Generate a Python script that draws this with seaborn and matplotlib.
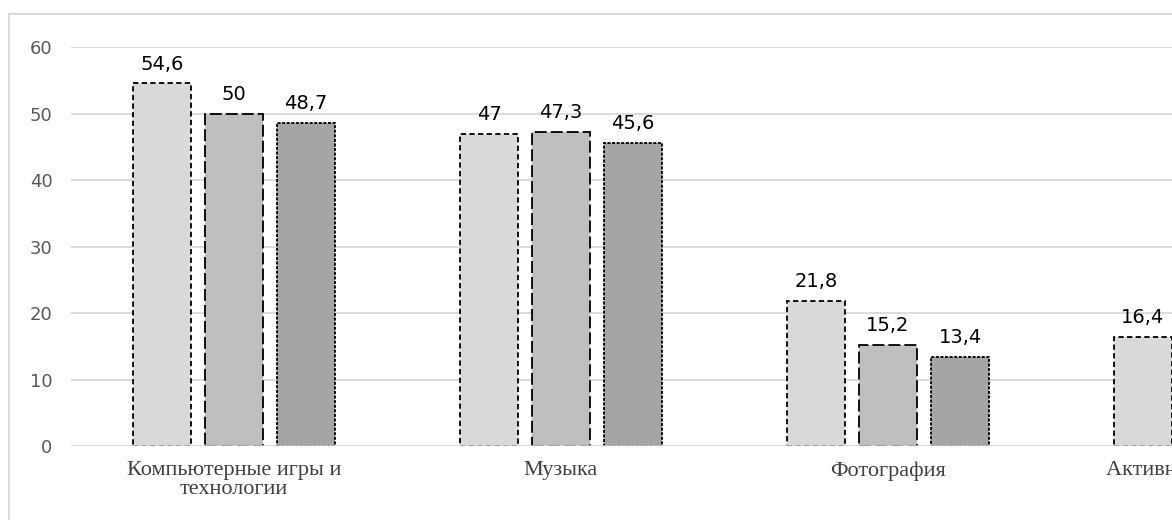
import matplotlib
matplotlib.use("Agg")
import matplotlib.pyplot as plt
import seaborn as sns
import pandas as pd
import numpy as np
from matplotlib.patches import Rectangle

categories = ["Компьютерные игры и\nтехнологии", "Музыка", "Фотография", "Активные виды спорта"]
series = ["Серия 1", "Серия 2", "Серия 3"]
values_1 = [54.6, 47.0, 21.8, 16.4]
values_2 = [50.0, 47.3, 15.2, np.nan]
values_3 = [48.7, 45.6, 13.4, np.nan]
y_ticks = [0, 10, 20, 30, 40, 50, 60]

sns.set_style("white")
plt.rcParams["font.family"] = ["DejaVu Sans"]
plt.rcParams["lines.scale_dashes"] = False

rows = []
for s, vals in zip(series, [values_1, values_2, values_3]):
    for c, v in zip(categories, vals):
        rows.append({"cat": c, "series": s, "value": v})
df = pd.DataFrame(rows)

W, H = 1172, 520
fig = plt.figure(figsize=(W / 100, H / 100), dpi=100)
fig.patch.set_facecolor("white")

# outer chart frame (extends beyond the visible canvas)
fig.patches.append(Rectangle((9.5 / W, -0.2), 2.0, (1 - 14 / H) + 0.2,
                             transform=fig.transFigure, fill=False,
                             edgecolor="#D9D9D9", linewidth=1.4, zorder=0))

ax = fig.add_axes([70.5 / W, (H - 446) / H, 4 * 327 / W, (446 - 47.5) / H])

colors = ["#D9D9D9", "#BFBFBF", "#A5A5A5"]
sns.barplot(data=df, x="cat", y="value", hue="series", order=categories,
            hue_order=series, palette=colors, width=0.661, gap=0.194,
            errorbar=None, legend=False, ax=ax, zorder=2)

dash_styles = [(0, (3.8, 2.4)), (0, (8.6, 2.9)), (0, (2.2, 1.1))]
for cont, ls in zip(ax.containers, dash_styles):
    for bar in cont:
        bar.set_edgecolor("black")
        bar.set_linewidth(1.3)
        bar.set_linestyle(ls)
    labels = ["" if np.isnan(v) else f"{v:g}".replace(".", ",") for v in cont.datavalues]
    ax.bar_label(cont, labels=labels, padding=7, fontsize=14, color="black",
                 family=["DejaVu Sans"])

ax.set_xlim(-0.5, 3.5)
ax.set_ylim(0, 60)
ax.set_yticks(y_ticks)
ax.yaxis.grid(True, color="#D9D9D9", linewidth=1.3)
ax.set_axisbelow(True)
ax.axhline(0, color="#D9D9D9", linewidth=1.8, zorder=4)
for sp in ax.spines.values():
    sp.set_visible(False)

ax.tick_params(axis="y", length=0, pad=13, labelsize=13, labelcolor="#595959")
ax.tick_params(axis="x", length=0, pad=11, labelsize=16, labelcolor="#404040")
for t in ax.get_xticklabels():
    t.set_family(["Liberation Serif"])
    t.set_linespacing(0.95)
ax.set_xlabel("")
ax.set_ylabel("")

fig.savefig("out.png", dpi=100)
